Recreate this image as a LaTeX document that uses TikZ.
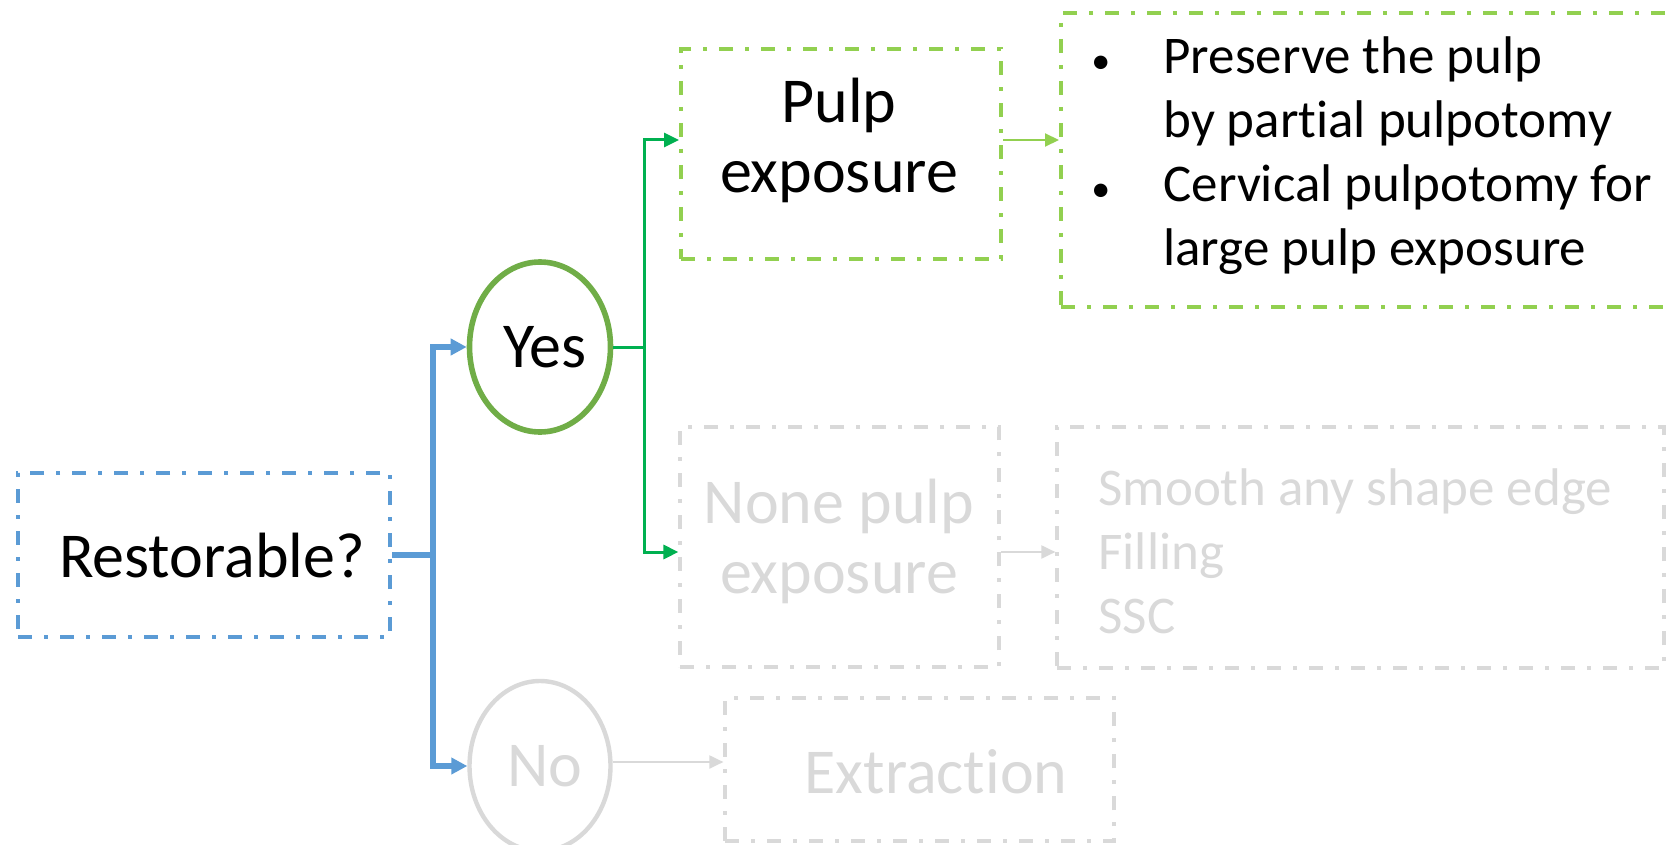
\documentclass[tikz,border=0pt]{standalone}
\usepackage{fontspec}
\setmainfont{Carlito}[Ligatures={NoCommon}]
\usetikzlibrary{arrows.meta,shapes.geometric}
\definecolor{oblue}{HTML}{5B9BD5}
\definecolor{ogreen}{HTML}{70AD47}
\definecolor{cgreen}{HTML}{00B050}
\definecolor{lgreen}{HTML}{92D050}
\definecolor{lgray}{HTML}{D9D9D9}
\newcommand{\smbullet}{{\fontsize{19}{19}\selectfont\textbullet}}
\begin{document}
\begin{tikzpicture}[x=0.5pt,y=-0.5pt,
  dashdot/.style={dash pattern=on 7pt off 6pt on 2pt off 6pt},
  bigfont/.style={font=\fontsize{32}{35}\selectfont},
  smallfont/.style={font=\fontsize{26.5}{32}\selectfont},
  boxbase/.style={dashdot, inner sep=0pt, line join=miter},
  bluebox/.style={boxbase, draw=oblue, line width=2pt},
  greenbox/.style={boxbase, draw=lgreen, line width=2pt},
  graybox/.style={boxbase, draw=lgray, line width=1.6pt},
  oval/.style={ellipse, minimum width=70.5pt, minimum height=85pt, inner sep=0pt},
  txt/.style={bigfont, align=center, inner sep=0pt},
  bluearr/.style={draw=oblue, line width=2.6pt, -{Triangle[length=8pt,width=8pt]}},
  greenarr/.style={draw=cgreen, line width=1.5pt, -{Triangle[length=7.5pt,width=7pt]}},
  lgreenarr/.style={draw=lgreen, line width=1pt, -{Triangle[length=7pt,width=6.5pt]}},
  grayarr/.style={draw=lgray, line width=1pt, -{Triangle[length=7pt,width=6.5pt]}}
]
\useasboundingbox (0,0) rectangle (1669,845);
\clip (0,0) rectangle (1669,845);

% nodes
\node[bluebox, minimum width=186pt, minimum height=82pt] (restor) at (204,555) {};
\node[txt] (restort) at (212,556) {Restorable?};
\node[oval, draw=ogreen, line width=2.8pt] (yes) at (540,347) {};
\node[txt] (yest) at (545,347) {Yes};
\node[oval, draw=lgray, line width=2.2pt] (no) at (540,766) {};
\node[txt, text=lgray] (not) at (545,766) {No};

\node[greenbox, minimum width=160pt, minimum height=105pt] (pulp) at (841,154) {};
\node[txt] (pulpt) at (839,140) {Pulp\\exposure};

\node[greenbox, minimum width=329.5pt, minimum height=147pt] (pres) at (1390.5,160) {};
\node[smallfont, anchor=west, inner sep=0pt] (prest) at (1091,157)
  {\begin{tabular}{@{}p{36pt}@{}l@{}}
   \smbullet & Preserve the pulp\\
             & by partial pulpotomy\\
   \smbullet & Cervical pulpotomy for\\
             & large pulp exposure
   \end{tabular}};

\node[graybox, minimum width=159.5pt, minimum height=120pt] (none) at (839.5,547) {};
\node[txt, text=lgray] (nonet) at (839,541) {None pulp\\exposure};

\node[graybox, minimum width=303.5pt, minimum height=120.5pt] (smooth) at (1360.5,547.5) {};
\node[smallfont, anchor=west, inner sep=0pt, text=lgray] (smootht) at (1098,557)
  {\begin{tabular}{@{}l@{}}
   Smooth any shape edge\\
   Filling\\
   SSC
   \end{tabular}};

\node[graybox, minimum width=194.5pt, minimum height=71.5pt] (extr) at (919.5,769.5) {};
\node[txt, text=lgray] (extrt) at (936,772) {Extraction};

% connectors
\coordinate (bj) at (433,555);
\draw[bluearr] (restor.east) -- (bj) |- (yes.west);
\draw[bluearr] (bj) |- (no.west);

\coordinate (gj) at (644,347);
\draw[greenarr] (yes.east) -- (gj) |- ([yshift=7pt]pulp.west);
\draw[greenarr] (gj) |- ([yshift=-2.5pt]none.west);

\draw[lgreenarr] ([yshift=7pt]pulp.east) -- ([yshift=7pt]pulp.east -| pres.west);
\draw[grayarr] ([yshift=-2.5pt]none.east) -- ([yshift=-2.5pt]none.east -| smooth.west);
\draw[grayarr] ([yshift=2pt]no.east) -- ([yshift=2pt]no.east -| extr.west);
\end{tikzpicture}
\end{document}
